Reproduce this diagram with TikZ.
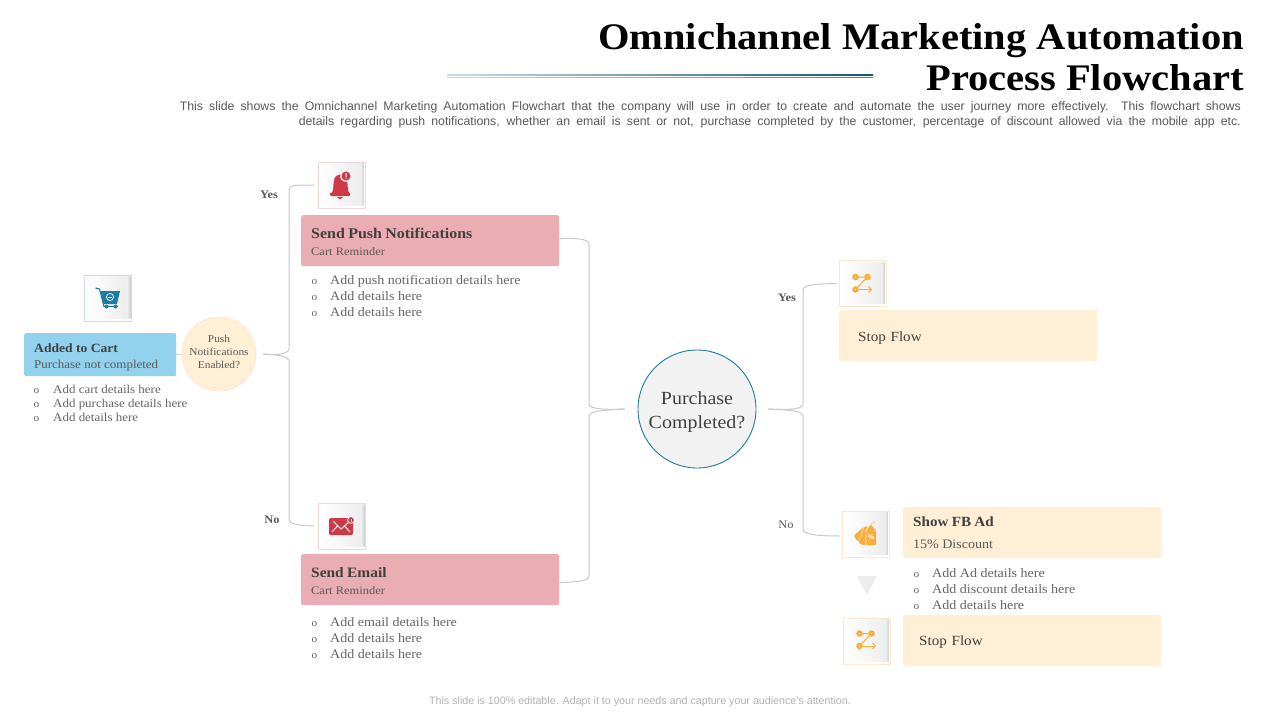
\documentclass[tikz,border=0pt]{standalone}
\usepackage{fontspec}
\setmainfont[FakeStretch=1.08]{Liberation Serif}
\newfontfamily\descfont{Liberation Sans}
\usetikzlibrary{arrows.meta}
\definecolor{cream}{HTML}{FFEFD6}
\definecolor{creamedge}{HTML}{FBE9CF}
\definecolor{rosefill}{HTML}{EAADB4}
\definecolor{skyfill}{HTML}{92D2EE}
\definecolor{headtxt}{HTML}{404040}
\definecolor{subtxt}{HTML}{595959}
\definecolor{bodytxt}{HTML}{666666}
\definecolor{redicon}{HTML}{CF3A48}
\definecolor{blueicon}{HTML}{1F7BA5}
\definecolor{orangeicon}{HTML}{F9AE3A}
\definecolor{connline}{HTML}{C9C9C9}
\tikzset{
  cardbox/.style={rounded corners=2pt,minimum width=258pt,minimum height=51pt,anchor=north west,inner sep=0pt,inner xsep=10pt,text width=238pt,align=left,text=headtxt},
  rosebox/.style={cardbox,fill=rosefill},
  creambox/.style={cardbox,fill=cream},
  iconframe/.style={draw=#1,line width=0.6pt,fill=white,minimum width=47pt,minimum height=46pt,inner sep=0pt},
  conn/.style={draw=connline,line width=1pt},
  bulletlist/.style={anchor=north west,inner sep=0pt,align=left,text=bodytxt,font=\fontsize{13}{16}\selectfont},
  bulletsmall/.style={anchor=north west,inner sep=0pt,align=left,text=bodytxt,font=\fontsize{12}{14}\selectfont},
  decision/.style={anchor=base,inner sep=0pt,font=\fontsize{11.5}{14}\selectfont\bfseries,text=subtxt},
}
\newcommand{\heading}[2][14.8]{{\fontsize{#1}{18}\selectfont\bfseries\rule{0pt}{12pt}#2}}
\newcommand{\subline}[1]{{\fontsize{11.5}{15}\selectfont\color{subtxt}#1}}
\newcommand{\bul}[2][20pt]{\makebox[#1][l]{\hspace{0.5pt}{\fontsize{10.5}{10}\selectfont o}}#2}
\newcommand{\frameshadow}[1]{%
  \fill[left color=white,right color=black!7] ([xshift=2pt,yshift=-2pt]#1.north west) rectangle ([xshift=-4.5pt,yshift=3pt]#1.south east);
  \fill[left color=black!7,right color=black!19] ([xshift=-4.5pt,yshift=-2pt]#1.north east) rectangle ([xshift=-1.5pt,yshift=3pt]#1.south east);}
\newcommand{\routeicon}[1]{%
  \begin{scope}[shift={(#1)}]
    \draw[orangeicon,line width=1pt] (-6.5,-6.5) -- (5.5,-6.5) -- (-6.5,6);
    \draw[orangeicon,line width=0.8pt,-{Straight Barb[length=3pt,width=6pt]}] (-6.5,6) -- (10,6);
    \foreach \p in {(-6.5,-6.5),(5.5,-6.5),(-6.5,6)}{
      \fill[orangeicon] \p circle (3.3pt);
      \fill[cream] \p circle (0.7pt);}
  \end{scope}}
\begin{document}
\begin{tikzpicture}[x=1pt,y=-1pt]
\useasboundingbox (0,0) rectangle (1280,720);
\fill[white] (0,0) rectangle (1280,720);

% title block
\node[anchor=base east,inner sep=0pt,align=right,font=\fontsize{37.5}{41}\selectfont\bfseries,text=black] (title) at (1244,90)
  {Omnichannel Marketing Automation\\Process Flowchart};
\shade[left color=blueicon!25,right color=blueicon!70!black] (447,74.8) rectangle (873,75.6);
\shade[left color=skyfill!70,right color=skyfill!60!black] (447,77) rectangle (873,77.8);
\node[anchor=base east,inner sep=0pt,align=right,text=subtxt,font=\descfont\fontsize{12.3}{15}\selectfont] (desc) at (1241,125.5)
  {\makebox[1061pt][s]{This slide shows the Omnichannel Marketing Automation Flowchart that the company will use in order to create and automate the user journey more effectively. This flowchart shows}\\
   \makebox[942pt][s]{details regarding push notifications, whether an email is sent or not, purchase completed by the customer, percentage of discount allowed via the mobile app etc.}};
\node[anchor=base,inner sep=0pt,text=black!30,font=\descfont\fontsize{10.7}{12}\selectfont] (foot) at (640,704)
  {This slide is 100\% editable. Adapt it to your needs and capture your audience's attention.};

% icon frames
\node[iconframe=blueicon!25] (icCart) at (108,298) {};
\node[iconframe=rosefill!50] (icBell) at (341.5,185) {};
\node[iconframe=rosefill!50] (icMail) at (342,526) {};
\node[iconframe=creamedge] (icRouteA) at (862.5,283.5) {};
\node[iconframe=creamedge] (icTag) at (865.5,534) {};
\node[iconframe=creamedge] (icRouteB) at (866.5,641) {};
\frameshadow{icCart}\frameshadow{icBell}\frameshadow{icMail}\frameshadow{icRouteA}\frameshadow{icTag}\frameshadow{icRouteB}

% cards
\node[cardbox,fill=skyfill,minimum width=152pt,minimum height=43pt,text width=132pt] (cart) at (24,333)
  {{\fontsize{12.6}{16}\selectfont\bfseries\rule{0pt}{14pt}Added to Cart}\\[4pt]{\fontsize{12}{14}\selectfont\color{subtxt}Purchase not completed}};
\node[rosebox] (push) at (301,215) {\heading{Send Push Notifications}\\[5pt]\subline{Cart Reminder}};
\node[rosebox] (email) at (301,554) {\heading[14.3]{Send Email}\\[5pt]\subline{Cart Reminder}};
\node[creambox,inner xsep=19pt,text width=220pt,font=\fontsize{14}{18}\selectfont] (stopA) at (839,310) {\smash{\raisebox{-5.5pt}{Stop Flow}}};
\node[creambox] (fbad) at (903,507) {{\fontsize{14}{18}\selectfont\bfseries Show FB Ad}\\[10pt]{\fontsize{13}{15}\selectfont\color{subtxt}15\% Discount}};
\node[creambox,inner xsep=16pt,text width=226pt,font=\fontsize{14}{18}\selectfont] (stopB) at (903,615) {\smash{\raisebox{-4.5pt}{Stop Flow}}};

% decisions
\node[circle,draw=creamedge,line width=0.8pt,fill=cream,minimum size=74pt,inner sep=0pt,align=center,text=subtxt,font=\fontsize{10.5}{13}\selectfont] (bubble) at (219,354) {\smash{\raisebox{-1pt}{Push}}\\\smash{\raisebox{-1pt}{Notifications}}\\\smash{\raisebox{-1pt}{Enabled?}}};
\node[circle,draw=blueicon,line width=0.9pt,fill=black!5,minimum size=118pt,inner sep=0pt,align=center,text=headtxt,font=\fontsize{18.5}{23.5}\selectfont] (purchase) at (697,409) {\smash{\raisebox{-7.5pt}{Purchase}}\\\smash{\raisebox{-7.5pt}{Completed?}}};

% bullet lists
\node[bulletsmall] (listCart) at (33,385) {\bul{Add cart details here}\\\bul{Add purchase details here}\\\bul{Add details here}};
\node[bulletlist] (listPush) at (311,275) {\bul[19pt]{Add push notification details here}\\\bul[19pt]{Add details here}\\\bul[19pt]{Add details here}};
\node[bulletlist] (listEmail) at (311,617) {\bul[19pt]{Add email details here}\\\bul[19pt]{Add details here}\\\bul[19pt]{Add details here}};
\node[bulletlist] (listAd) at (913,568) {\bul[19pt]{Add Ad details here}\\\bul[19pt]{Add discount details here}\\\bul[19pt]{Add details here}};

% connectors
\coordinate (bubOut) at ([xshift=7pt]bubble.east);
\coordinate (purIn) at ([xshift=-13pt]purchase.west);
\coordinate (purOut) at ([xshift=12pt]purchase.east);
\draw[draw=blueicon!25,line width=0.8pt] (cart.east |- bubble.west) -- (bubble.west);
\draw[conn] (bubOut) .. controls (275,355) and (285,355) .. (289,350) -- (289,190) .. controls (289,185) and (295,185) .. ([xshift=-3pt]icBell.west);
\draw[conn] (bubOut) .. controls (275,355) and (285,355) .. (289,360) -- (289,519) .. controls (289,524) and (295,525) .. ([xshift=-4pt]icMail.west);
\draw[conn] ([yshift=2pt]push.east) .. controls (570,238) and (589,238) .. (589,244) -- (589,404) .. controls (589,409) and (605,410) .. (purIn);
\draw[conn] ([yshift=-3pt]email.east) .. controls (570,582) and (589,582) .. (589,576) -- (589,416) .. controls (589,411) and (605,410) .. (purIn);
\draw[conn] (purOut) .. controls (785,410) and (803,410) .. (803,404) -- (803,290) .. controls (803,284) and (820,284) .. ([xshift=-2pt]icRouteA.west);
\draw[conn] (purOut) .. controls (785,410) and (803,410) .. (803,416) -- (803,529) .. controls (803,535) and (820,536) .. ([xshift=-2pt,yshift=-2pt]icTag.west);

% branch labels
\node[decision] (lblYesA) at (269,198) {Yes};
\node[decision] (lblNoA) at (272,523) {No};
\node[decision] (lblYesB) at (787,301) {Yes};
\node[decision,font=\fontsize{11.5}{14}\selectfont] (lblNoB) at (786,528) {No};

% flow triangle
\fill[black!7] (857,576) -- (877,576) -- (867,595) -- cycle;

% cart icon
\draw[blueicon,line width=1.1pt] (95.5,288) -- (99.5,289) -- (104,306.5) -- (118,306.5);
\fill[blueicon] (100.5,291) -- (120,291) -- (117,304) -- (103.5,304) -- cycle;
\fill[blueicon] (106.5,306.5) circle (2pt) (115.5,306.5) circle (2pt);
\draw[white,line width=0.7pt] (110,297) circle (3.6pt);
\draw[white,line width=0.7pt] (108,297) -- (112,297);

% bell icon
\fill[redicon,rounded corners=1pt] (330,192.5) -- (350,192.5) -- (350,196) -- (330,196) -- cycle;
\fill[redicon] (332,193) .. controls (334,189) and (333,184) .. (334,180) .. controls (335,173) and (346,172) .. (347,179) .. controls (348,184) and (347,189) .. (349,193) -- cycle;
\fill[redicon] (337,197) -- (343,197) .. controls (342,199.5) and (338,199.5) .. (337,197) -- cycle;
\fill[white] (346,176) circle (5.8pt);
\fill[redicon] (346,176) circle (4.6pt);
\fill[white] (345.5,173.2) rectangle (346.5,176.8) (345.5,177.6) rectangle (346.5,178.6);

% mail icon
\fill[redicon,rounded corners=1.5pt] (329,518) rectangle (353,535);
\draw[white,line width=0.9pt] (333,521) -- (341,529) -- (350,521) (332,532) -- (337.5,526) (350,532) -- (344.5,526);
\fill[white] (351,520) circle (3.9pt);
\fill[redicon] (351,520) circle (2.9pt);
\fill[white] (350.6,518.5) rectangle (351.4,521.5);

% route icons
\routeicon{862,283.5}
\routeicon{866,640}

% tag icon
\fill[orangeicon,rounded corners=2pt] (853.5,536) -- (864,526.5) -- (868,526) -- (868,545) -- (861,545) -- cycle;
\draw[white,line width=0.5pt] (858,543) -- (864,527);
\draw[white,line width=0.8pt] (866,546) -- (866,531) -- (870.5,523.5);
\fill[orangeicon,rounded corners=1pt] (866.5,531) -- (870.5,524) -- (876,531) -- (876,545) -- (866.5,545) -- cycle;
\draw[orangeicon,line width=0.5pt] (870.5,524) -- (875,522);
\node[inner sep=0pt,text=white,font=\descfont\fontsize{7}{7}\selectfont\bfseries] (tagPct) at (871,537.5) {\%};
\end{tikzpicture}
\end{document}
